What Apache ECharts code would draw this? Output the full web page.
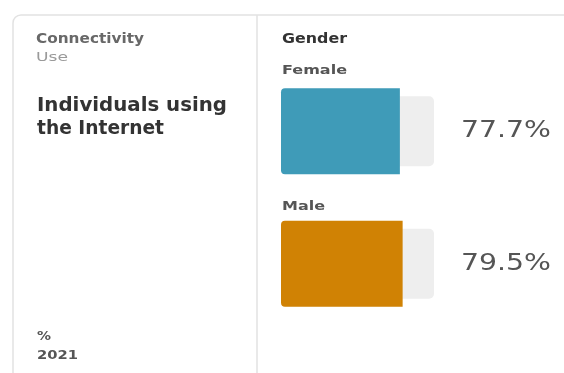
<!DOCTYPE html>
<html><head><meta charset="utf-8">
<script src="https://cdn.jsdelivr.net/npm/echarts@6/dist/echarts.min.js"></script>
<style>html,body{margin:0;padding:0;background:#fff}#c{width:564px;height:373px}</style>
</head><body><div id="c"></div>
<script>
const categories = ['Female', 'Male'];
const values = [77.7, 79.5];
const trackMax = [100, 100];
const colors = ['#3f9bb8', '#d08204'];
const FONT = 'DejaVu Sans';

const ctx = document.createElement('canvas').getContext('2d');
function measure(s, size, weight) {
  ctx.font = weight + ' ' + size + 'px "' + FONT + '"';
  return ctx.measureText(s).width;
}
// text with horizontal stretch so that it spans targetW pixels
function txt(x, y, s, size, weight, color, targetW) {
  const sx = targetW ? targetW / measure(s, size, weight) : 1;
  return {
    type: 'text', x: x, y: y, scaleX: sx,
    style: { text: s, fontSize: size, fontWeight: weight, fill: color, fontFamily: FONT, textVerticalAlign: 'middle', textAlign: 'left' }
  };
}

const chart = echarts.init(document.getElementById('c'));
chart.setOption({
  animation: false,
  grid: { left: 281, width: 153, top: 65, height: 265 },
  xAxis: { type: 'value', min: 0, max: 100, show: false },
  yAxis: [
    { type: 'category', data: categories, inverse: true, show: false },
    { type: 'category', data: categories, inverse: true, show: false }
  ],
  series: [
    {
      type: 'bar', yAxisIndex: 1, barWidth: 70, silent: true,
      data: trackMax.map(v => ({ value: v })),
      itemStyle: { color: '#eeeeee', borderRadius: 5 },
      z: 1
    },
    {
      type: 'bar', yAxisIndex: 0, barWidth: 86,
      data: values.map((v, i) => ({ value: v, itemStyle: { color: colors[i] } })),
      itemStyle: { borderRadius: [4, 0, 0, 4] },
      z: 2
    }
  ]
});

const graphics = [
  { type: 'rect', shape: { x: 13, y: 15, width: 600, height: 420, r: 8 }, style: { fill: 'none', stroke: '#e2e2e2', lineWidth: 1.5 }, z: -1 },
  { type: 'line', shape: { x1: 257, y1: 15, x2: 257, y2: 373 }, style: { stroke: '#e2e2e2', lineWidth: 1.5 } },
  txt(36, 39, 'Connectivity', 14, 'bold', '#686868', 108),
  txt(36, 58, 'Use', 13, 'normal', '#9a9a9a', 32),
  txt(37, 106, 'Individuals using', 19, 'bold', '#333', 190),
  txt(37, 129, 'the Internet', 19, 'bold', '#333', 127),
  txt(37, 337, '%', 13, 'bold', '#555', 14),
  txt(37, 356, '2021', 13, 'bold', '#555', 41),
  txt(282, 39, 'Gender', 14, 'bold', '#333', 65),
  txt(282, 71, 'Female', 13, 'bold', '#555', 65),
  txt(282, 207, 'Male', 13, 'bold', '#555', 43)
];
// value labels placed from the axis scale, right of the 100% track
categories.forEach((c, i) => {
  const p = chart.convertToPixel({ gridIndex: 0 }, [trackMax[i], c]);
  graphics.push(txt(p[0] + 27, p[1], values[i].toFixed(1) + '%', 23, 'normal', '#555', 90));
});
chart.setOption({ graphic: graphics });
</script></body></html>
